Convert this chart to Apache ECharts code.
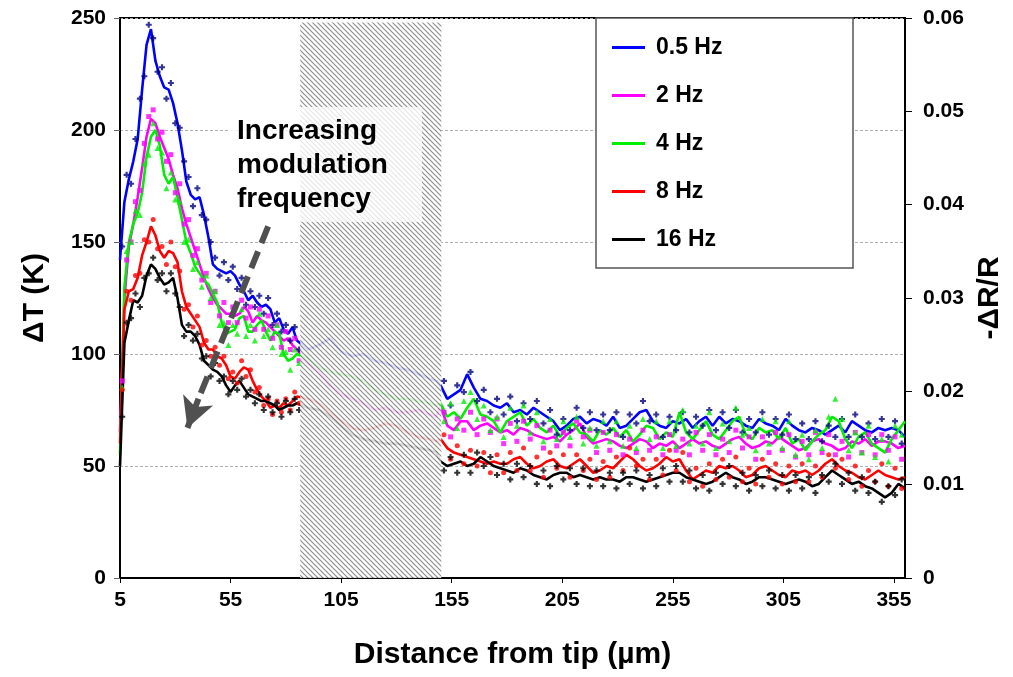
<!DOCTYPE html>
<html>
<head>
<meta charset="utf-8">
<script src="https://cdn.jsdelivr.net/npm/echarts@6/dist/echarts.min.js"></script>
<style>html,body{margin:0;padding:0;background:#fff}#c{width:1013px;height:677px}</style>
</head>
<body>
<div id="c"></div>
<script>
// ---------- data ----------
const seriesNames = ['0.5 Hz', '2 Hz', '4 Hz', '8 Hz', '16 Hz'];
const xTickLabels = [5, 55, 105, 155, 205, 255, 305, 355];

// x positions of the smoothed curves (µm)
const xLine = [5,7,9,11,13,15,17,19,21,23,25,27,29,31,33,35,37,39,41,43,45,47,49,51,53,55,57,59,61,63,65,67,69,71,73,75,77,79,81,83,85,
  90,95,100,105,110,115,120,125,130,135,140,145,148,
  150,153,156,159,162,165,168,171,174,177,180,183,186,189,192,195,198,201,204,207,210,213,216,219,222,225,228,231,234,237,240,243,246,249,252,255,258,261,264,267,270,273,276,279,282,285,288,291,294,297,300,303,306,309,312,315,318,321,324,327,330,333,336,339,342,345,348,351,354,357,360];

const line05 = [142,168,178,186,196,218,238,245,231,224,219,218,212,203,191,177,171,169,170,162,152,140,138,137,136,137,135,131,128,124,126,123,121,122,120,114,116,111,109,112,106,
  102,104,107,101,99,100,97,96,94,93,91,89,88,
  86,80,82,84,91,85,80,79,77,76,78,74,75,73,76,74,72,70,66,68,71,72,69,71,70,68,72,67,68,71,74,75,70,68,67,70,69,71,67,70,72,68,72,69,71,70,68,67,71,69,68,66,71,68,66,65,67,66,64,66,68,65,70,68,66,65,67,66,67,66,63];
const line2 = [65,125,148,158,170,183,197,205,203,197,192,187,180,174,165,158,152,146,140,134,129,125,122,120,118,118,117,118,121,119,114,117,115,114,112,110,108,106,107,104,102,
  96,92,86,82,80,78,75,76,74,74,75,73,72,
  77,68,66,70,70,66,68,69,67,65,66,64,67,66,64,63,62,63,61,64,66,69,63,60,61,62,61,59,58,60,62,61,58,60,59,61,58,60,62,60,61,59,58,60,62,63,60,58,59,61,60,63,61,59,57,58,61,62,60,59,57,58,61,60,62,59,61,61,60,58,59];
const line4 = [55,130,150,158,163,172,188,197,200,193,180,176,179,170,160,150,145,139,136,133,131,127,123,114,109,110,111,116,117,110,110,113,115,110,106,110,109,100,97,98,100,
  98,94,92,91,90,88,84,82,80,80,79,78,77,
  78,72,74,71,76,80,73,72,70,65,70,72,74,68,71,67,65,68,63,67,69,65,64,61,66,64,67,63,66,61,64,68,67,62,65,63,74,65,62,66,70,64,62,66,70,72,64,62,67,65,66,62,67,60,62,57,61,64,66,72,70,62,58,63,65,60,58,56,62,66,70];
const line8 = [60,120,128,129,134,144,150,157,153,146,143,146,145,141,128,121,118,115,112,105,102,102,99,98,95,90,89,92,94,93,88,84,81,79,76,77,76,78,77,79,81,
  80,78,74,70,67,66,67,69,68,65,63,62,61,
  62,58,56,55,54,53,52,51,52,51,51,53,54,51,49,50,52,53,50,49,51,53,50,47,48,50,49,52,55,53,50,48,49,51,54,52,53,48,44,46,48,47,50,49,50,48,45,46,49,50,48,46,45,48,47,48,46,48,51,53,50,48,47,45,44,46,48,46,45,44,45];
const line16 = [50,105,115,124,123,126,135,140,138,134,131,132,134,125,113,110,110,108,104,97,95,93,92,90,86,83,86,88,85,82,81,80,79,79,78,77,75,76,77,77,78,
  76,75,72,68,64,62,61,60,60,59,58,57,56,
  52,50,51,52,50,51,54,52,50,49,48,47,49,48,46,45,44,46,47,47,45,46,45,44,45,44,44,43,45,45,44,43,44,45,46,47,47,45,44,43,42,43,45,47,45,44,42,43,45,45,44,43,42,43,44,43,41,42,45,48,46,44,42,43,41,40,38,36,38,42,40];

// x positions of the raw measurement points (µm)
const xDots = [6,8,10,12,14,16,18,20,22,24,26,28,30,32,34,36,38,40,42,44,46,48,50,52,54,56,58,60,62,64,66,68,70,72,74,76,78,80,82,84,86,
  151.5,154.5,157.5,160.5,163.5,166.5,169.5,172.5,175.5,178.5,181.5,184.5,187.5,190.5,193.5,196.5,199.5,202.5,205.5,208.5,211.5,214.5,217.5,220.5,223.5,226.5,229.5,232.5,235.5,238.5,241.5,244.5,247.5,250.5,253.5,256.5,259.5,262.5,265.5,268.5,271.5,274.5,277.5,280.5,283.5,286.5,289.5,292.5,295.5,298.5,301.5,304.5,307.5,310.5,313.5,316.5,319.5,322.5,325.5,328.5,331.5,334.5,337.5,340.5,343.5,346.5,349.5,352.5,355.5,358.5];

const dots05 = [148,180,176,196,214,224,247,241,226,228,214,221,203,201,186,179,166,174,162,160,150,143,135,141,133,139,129,134,122,128,121,126,118,125,113,118,110,113,106,112,102,
  88,77,86,83,92,79,84,74,80,73,81,70,78,71,79,69,75,64,71,66,76,67,74,66,73,66,74,63,73,69,79,70,73,63,72,66,74,65,72,68,75,66,74,67,75,65,71,65,74,64,71,64,73,62,69,62,70,61,68,63,71,63,73,63,69,62,71,63,70,60];
const dots2 = [88,142,150,168,173,194,206,209,196,199,186,189,172,176,158,160,144,147,133,136,123,128,117,123,114,121,114,124,116,121,111,120,111,117,107,113,103,110,102,107,97,
  74,63,71,66,74,64,71,65,71,60,69,61,70,62,68,58,66,59,65,59,70,63,66,56,65,57,64,55,62,56,66,57,63,55,64,57,62,55,65,57,64,55,62,56,66,58,63,53,63,56,65,57,64,54,61,55,65,56,64,55,61,54,65,56,64,55,64,57,63,53];
const dots4 = [85,146,150,164,162,185,189,203,192,190,174,181,169,168,150,151,138,141,130,135,125,128,113,114,104,113,109,120,108,113,106,118,108,111,103,113,100,101,93,102,96,
  70,78,67,79,83,71,77,66,72,63,76,68,77,65,74,61,71,62,70,63,72,60,67,59,70,61,70,59,68,58,71,62,70,58,70,59,75,60,68,60,74,58,69,61,76,64,67,57,71,60,70,58,70,55,64,53,66,58,72,80,71,57,65,56,68,54,62,52,68,64];
const dots8 = [84,128,124,135,136,151,150,160,147,148,140,150,139,137,120,122,112,117,104,106,99,103,95,99,89,92,87,97,90,93,83,85,77,80,73,79,74,80,75,83,78,
  64,53,59,51,57,50,56,47,55,47,56,48,58,48,54,45,56,49,55,45,55,48,53,44,52,45,54,48,58,50,53,44,53,46,57,48,56,43,49,41,51,44,53,45,54,43,49,42,53,45,51,42,50,43,51,43,50,45,55,49,53,44,50,41,48,43,51,41,49,40];
const dots16 = [72,114,116,127,121,134,136,143,133,136,128,136,127,121,108,113,106,109,98,99,90,96,88,90,82,88,84,89,81,84,78,82,75,81,74,78,72,79,74,80,75,
  48,54,47,55,47,56,50,54,46,51,44,51,45,50,42,48,41,50,44,49,42,49,41,48,41,47,40,47,42,48,40,46,41,49,43,50,43,48,40,46,39,47,42,50,41,47,39,46,41,48,40,46,39,46,40,45,38,46,43,51,42,47,39,45,38,43,34,41,37,44];

// shaded (masked) region and annotation arrow, in data units
const hatchRange = [86.5, 150.3];
const hatchTop = 248;
const arrowFrom = [72, 157];
const arrowHeadStart = [40.5, 80];
const arrowTo = [35.5, 67];

// ---------- styling ----------
const FONT = '"Liberation Sans", Arial, Helvetica, sans-serif';
const lineColors = ['#0000ff', '#ff00ff', '#00ee00', '#ff0000', '#000000'];
const dotColors = ['#000080', '#ff00ff', '#00ee00', '#ff0000', '#000000'];
const plus = 'path://M1.6,0H3.4V1.6H5V3.4H3.4V5H1.6V3.4H0V1.6H1.6Z';
const dotSymbols = [plus, 'rect', 'triangle', 'circle', plus];
const dotSizes = [6, 5, 6, 5, 6];

function makeHatch() {
  const c = document.createElement('canvas');
  c.width = 5; c.height = 5;
  const g = c.getContext('2d');
  g.fillStyle = '#ffffff'; g.fillRect(0, 0, 5, 5);
  g.strokeStyle = '#808080'; g.lineWidth = 1.2;
  g.beginPath();
  g.moveTo(-1, -1); g.lineTo(6, 6);
  g.moveTo(-1, 4); g.lineTo(1, 6);
  g.moveTo(4, -1); g.lineTo(6, 1);
  g.stroke();
  return c;
}

const lines = [line05, line2, line4, line8, line16];
const dots = [dots05, dots2, dots4, dots8, dots16];

const series = [];
dots.forEach((d, k) => {
  series.push({
    name: seriesNames[k] + ' data', type: 'scatter', z: 2,
    data: xDots.map((x, i) => [x, d[i]]),
    symbol: dotSymbols[k], symbolSize: dotSizes[k],
    itemStyle: { color: dotColors[k] }, silent: true
  });
});
lines.forEach((l, k) => {
  series.push({
    name: seriesNames[k], type: 'line', z: 2,
    data: xLine.map((x, i) => [x, l[i]]),
    showSymbol: false, symbol: 'none',
    lineStyle: { color: lineColors[k], width: 2.6 },
    itemStyle: { color: lineColors[k] }, silent: true
  });
});
series.push({
  name: 'mask', type: 'line', data: [], z: 3, silent: true,
  markArea: {
    silent: true, z: 10,
    itemStyle: { color: { image: makeHatch(), repeat: 'repeat' }, opacity: 0.88 },
    data: [[{ xAxis: hatchRange[0], yAxis: 0 }, { xAxis: hatchRange[1], yAxis: hatchTop }]]
  }
});
series.push({
  name: 'arrow', type: 'line', data: [], z: 4, silent: true,
  markLine: {
    silent: true, z: 11, symbol: ['none', 'none'],
    label: { show: false },
    lineStyle: { color: '#505050', width: 6, type: [18, 9], cap: 'butt' },
    data: [
      [{ coord: arrowFrom }, { coord: arrowHeadStart }],
      [{ coord: arrowHeadStart, symbol: 'none', lineStyle: { type: 'solid', width: 6 } },
       { coord: arrowTo, symbol: 'arrow', symbolSize: [24, 30] }]
    ]
  }
});

const labelStyle = { color: '#000', fontFamily: FONT, fontWeight: 'bold', fontSize: 21 };

const option = {
  animation: false,
  backgroundColor: '#fff',
  grid: { left: 120, right: 108, top: 18, bottom: 99, show: true, borderColor: '#000', borderWidth: 2 },
  xAxis: {
    type: 'value', min: 5, max: 360,
    axisLine: { lineStyle: { color: '#000', width: 2 } },
    axisTick: { customValues: xTickLabels, length: 5, lineStyle: { color: '#000' } },
    axisLabel: Object.assign({ customValues: xTickLabels, margin: 12 }, labelStyle),
    splitLine: { show: false },
    name: 'Distance from tip (µm)', nameLocation: 'middle', nameGap: 62,
    nameTextStyle: { color: '#000', fontFamily: FONT, fontWeight: 'bold', fontSize: 30 }
  },
  yAxis: [{
    type: 'value', position: 'left', min: 0, max: 250, interval: 50,
    axisLine: { show: true, lineStyle: { color: '#000', width: 2 } },
    axisTick: { show: true, length: 6, lineStyle: { color: '#666' } },
    axisLabel: Object.assign({ margin: 14 }, labelStyle),
    splitLine: { show: true, lineStyle: { color: '#b0b0b0', width: 1, type: [3, 2] } },
    name: 'ΔT (K)', nameLocation: 'middle', nameRotate: 90, nameGap: 70,
    nameTextStyle: { color: '#000', fontFamily: FONT, fontWeight: 'bold', fontSize: 30 }
  }, {
    type: 'value', position: 'right', min: 0, max: 0.06, interval: 0.01,
    axisLine: { show: true, lineStyle: { color: '#000', width: 2 } },
    axisTick: { show: true, length: 7, lineStyle: { color: '#000' } },
    axisLabel: Object.assign({ margin: 18, formatter: v => (v === 0 ? '0' : v.toFixed(2)) }, labelStyle),
    splitLine: { show: false },
    name: '-ΔR/R', nameLocation: 'middle', nameRotate: 90, nameGap: 66,
    nameTextStyle: { color: '#000', fontFamily: FONT, fontWeight: 'bold', fontSize: 30 }
  }],
  legend: {
    orient: 'vertical', left: 607, top: 31, itemGap: 25,
    itemWidth: 33, itemHeight: 3,
    data: seriesNames.map(n => ({ name: n, icon: 'rect' })),
    textStyle: { color: '#000', fontFamily: FONT, fontWeight: 'bold', fontSize: 23, padding: [0, 0, 0, 6] },
    selectedMode: false
  },
  graphic: [
    { type: 'rect', z: 3, shape: { x: 596, y: 18, width: 257, height: 250 },
      style: { fill: '#fff', stroke: '#555', lineWidth: 1.5 } },
    { type: 'rect', z: 20, shape: { x: 228, y: 107, width: 194, height: 115 },
      style: { fill: 'rgba(255,255,255,0.78)' } },
    { type: 'text', z: 21, x: 237, y: 114,
      style: { text: 'Increasing\nmodulation\nfrequency', fill: '#000',
        font: 'bold 28px ' + FONT, lineHeight: 34, verticalAlign: 'top', align: 'left' } }
  ],
  series: series
};

const chart = echarts.init(document.getElementById('c'), null, { renderer: 'canvas' });
chart.setOption(option);
</script>
</body>
</html>
